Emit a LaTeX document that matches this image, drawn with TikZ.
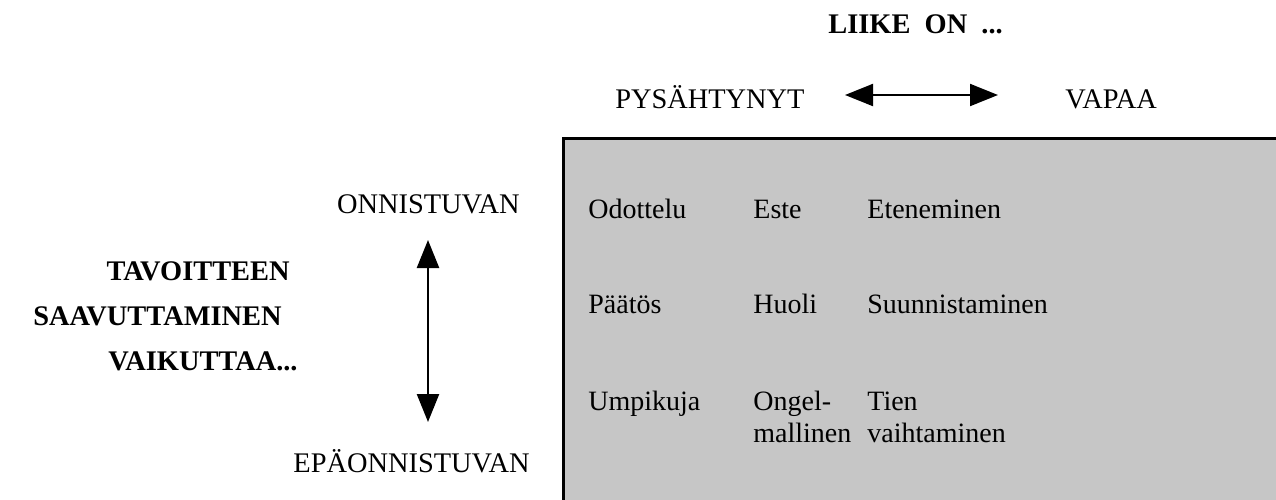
\documentclass[tikz,border=0pt]{standalone}
\usepackage{fontspec}
\setmainfont{Liberation Serif}
\usetikzlibrary{arrows.meta}
\definecolor{cellgray}{RGB}{198,198,198}
\tikzset{
  lbl/.style={font=\fontsize{14.2}{16}\selectfont, inner sep=0pt},
  head/.style={lbl, font=\fontsize{14.2}{16}\selectfont\bfseries},
  cell/.style={lbl, anchor=base west, align=left, font=\fontsize{14}{16}\selectfont},
  bigarrow/.style={{Triangle[length=14pt,width=11pt]}-{Triangle[length=14pt,width=11pt]}}
}
\begin{document}
\begin{tikzpicture}[x=0.5pt, y=-0.5pt]
\useasboundingbox (0,0) rectangle (1276,499);
% Movement axis and label
\node [head, anchor=base west] (liike) at (828,33) {LIIKE\ \ ON\ \ ...};
\node [lbl, anchor=base east] (pys) at (805,108) {PYSÄHTYNYT};
\node [lbl, anchor=base west] (vapaa) at (1065,108) {VAPAA};
\coordinate (hleft) at (845,95);
\coordinate (hright) at (998,95);
\draw [bigarrow, line width=1pt] (hleft) -- (hright);
% Goal axis and label
\node [head, anchor=base east] (tav) at (290,280) {TAVOITTEEN};
\node [head, anchor=base east] (saav) at (282,325) {SAAVUTTAMINEN};
\node [head, anchor=base east] (vaik) at (298,370) {VAIKUTTAA...};
\node [lbl, anchor=base east] (onn) at (520,213) {ONNISTUVAN};
\node [lbl, anchor=base east] (epa) at (530,472) {EPÄONNISTUVAN};
\coordinate (vtop) at (428,240);
\coordinate (vbot) at (428,422);
\draw [bigarrow, line width=1.2pt] (vtop) -- (vbot);
% Grey field
\fill [cellgray] (563,138) rectangle (1280,503);
\draw [line width=1.5pt] (563,503) -- (563,138) -- (1280,138);
% Cells, top row
\node [cell] (odo) at (588,218) {Odottelu};
\node [cell] (este) at (753,218) {Este};
\node [cell] (eten) at (867,218) {Eteneminen};
% Middle row
\node [cell] (paat) at (588,313) {Päätös};
\node [cell] (huoli) at (753,313) {Huoli};
\node [cell] (suun) at (867,313) {Suunnistaminen};
% Bottom row (two-line cells sit on their last line)
\node [cell] (umpi) at (588,410) {Umpikuja};
\node [cell] (ongel) at (753,442) {Ongel-\\mallinen};
\node [cell] (tien) at (867,442) {Tien\\vaihtaminen};
\end{tikzpicture}
\end{document}
